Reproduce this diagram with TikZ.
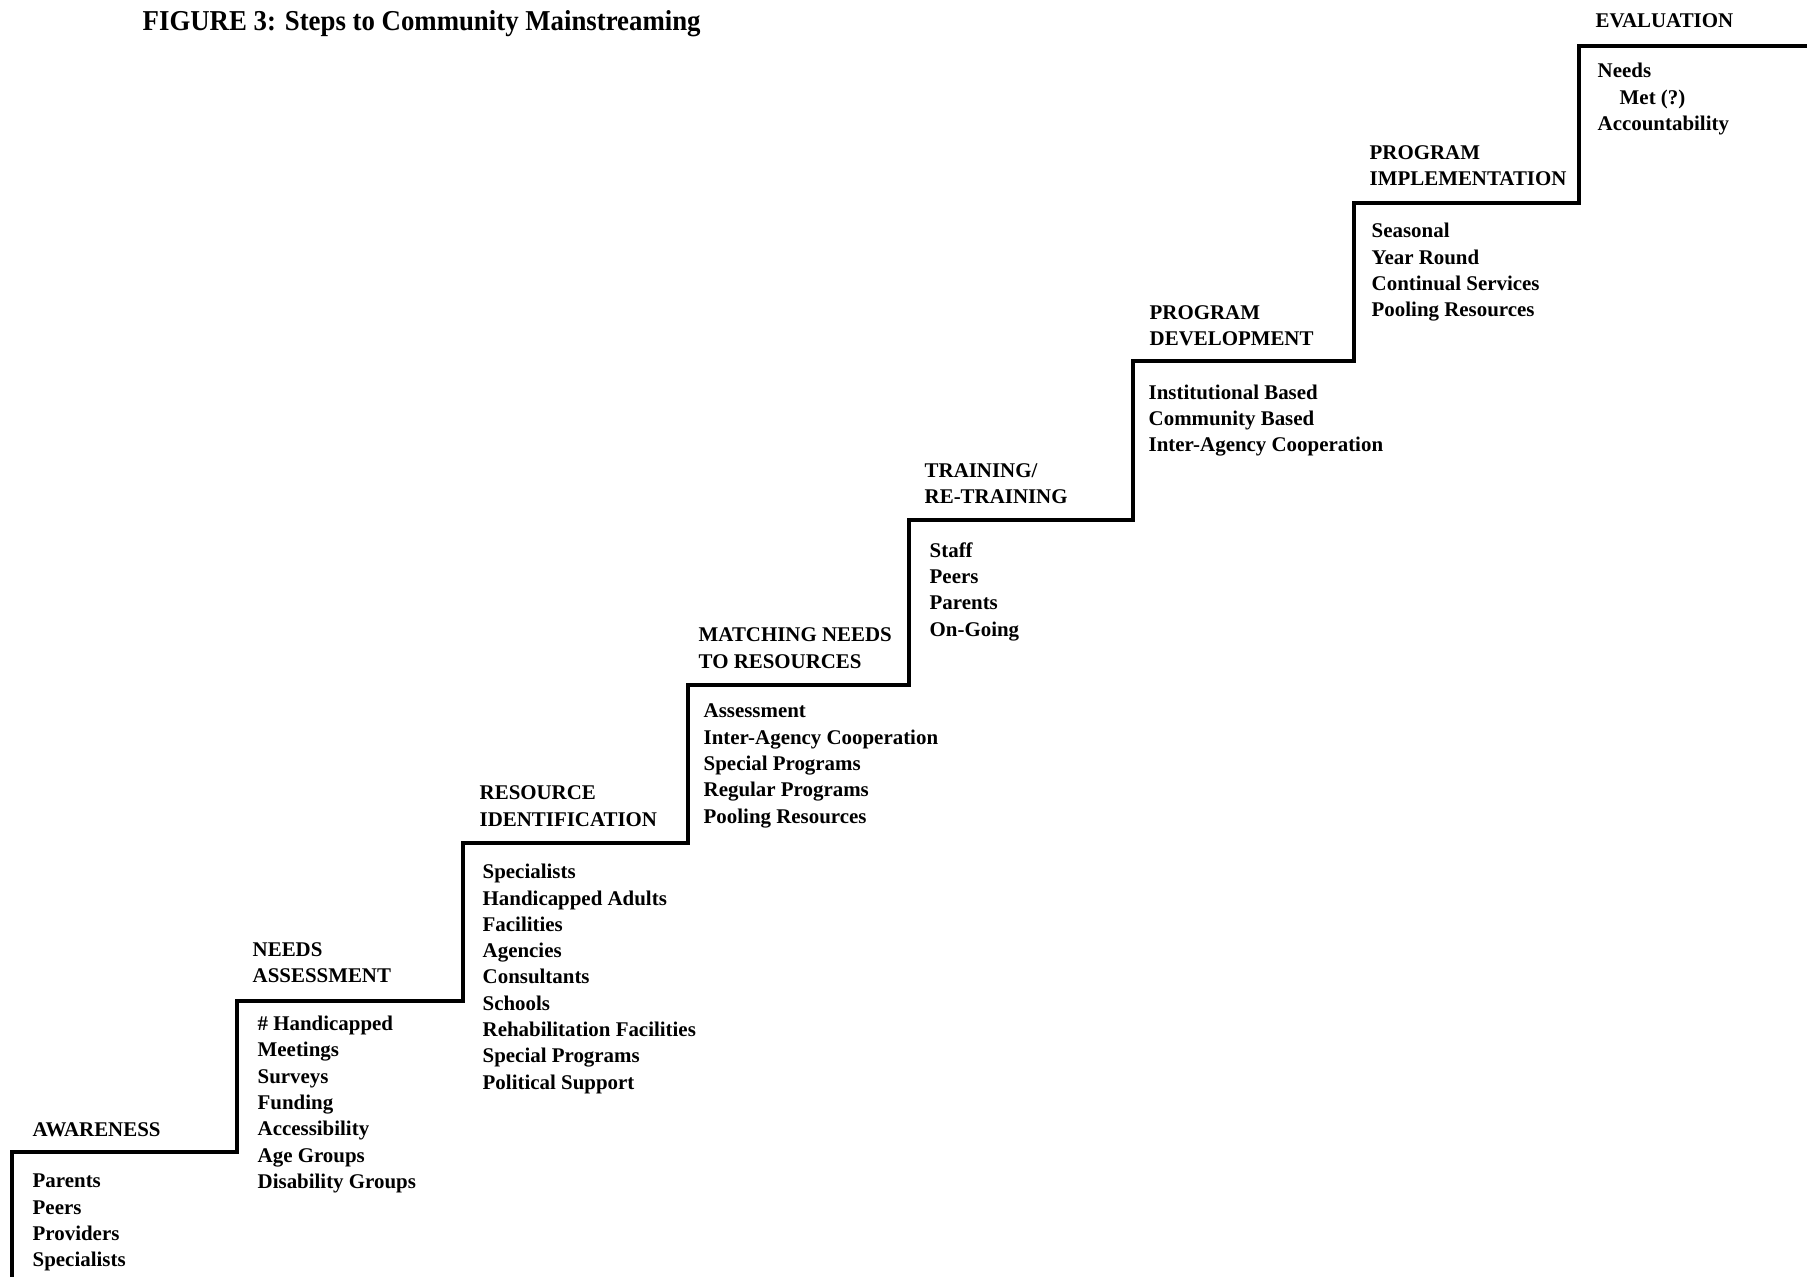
\documentclass[tikz,border=0pt]{standalone}
\usepackage{fontspec}
\setmainfont{Liberation Serif}
\usetikzlibrary{positioning}

\begin{document}
\begin{tikzpicture}[
    heading/.style={
        anchor=north west,
        inner sep=0pt,
        align=left,
        font=\fontsize{5.95}{7.55}\selectfont\bfseries,
    },
    items/.style={
        anchor=north west,
        inner sep=0pt,
        align=left,
        font=\fontsize{5.95}{7.48}\selectfont\bfseries,
    },
]

\useasboundingbox (0, 0) rectangle (18.07, 12.77);

\node[anchor=north west, inner sep=0pt, font=\fontsize{8.2}{10}\selectfont\bfseries] (T) at (1.42, 12.674) {\scalebox{0.93}[1]{FIGURE 3: Steps to Community Mainstreaming}};

\draw[line width=1.2pt, line join=miter]
    (0.12, 0) |- (2.37, 1.25) |- (4.63, 2.76) |- (6.88, 4.34) |- (9.09, 5.92)
    |- (11.33, 7.57) |- (13.54, 9.16) |- (15.79, 10.74) |- (18.07, 12.31);

\node[heading] (H1) at (0.32, 1.555) {AWARENESS};
\node[items] (L1) at (0.32, 1.035) {Parents\\Peers\\Providers\\Specialists};

\node[heading] (H2) at (2.52, 3.355) {NEEDS\\ASSESSMENT};
\node[items] (L2) at (2.57, 2.615) {\# Handicapped\\Meetings\\Surveys\\Funding\\Accessibility\\Age Groups\\Disability Groups};

\node[heading] (H3) at (4.79, 4.918) {RESOURCE\\IDENTIFICATION};
\node[items] (L3) at (4.82, 4.134) {Specialists\\Handicapped Adults\\Facilities\\Agencies\\Consultants\\Schools\\Rehabilitation Facilities\\Special Programs\\Political Support};

\node[heading] (H4) at (6.98, 6.497) {MATCHING NEEDS\\TO RESOURCES};
\node[items] (L4) at (7.03, 5.736) {Assessment\\Inter-Agency Cooperation\\Special Programs\\Regular Programs\\Pooling Resources};

\node[heading] (H5) at (9.24, 8.145) {TRAINING/\\RE-TRAINING};
\node[items] (L5) at (9.29, 7.35) {Staff\\Peers\\Parents\\On-Going};

\node[heading] (H6) at (11.49, 9.724) {PROGRAM\\DEVELOPMENT};
\node[items] (L6) at (11.48, 8.928) {Institutional Based\\Community Based\\Inter-Agency Cooperation};

\node[heading] (H7) at (13.69, 11.325) {PROGRAM\\IMPLEMENTATION};
\node[items] (L7) at (13.71, 10.542) {Seasonal\\Year Round\\Continual Services\\Pooling Resources};

\node[heading] (H8) at (15.95, 12.639) {EVALUATION};
\node[items] (L8) at (15.97, 12.144) {Needs\\\hspace{0.22cm}Met (?)\\Accountability};

\end{tikzpicture}
\end{document}
